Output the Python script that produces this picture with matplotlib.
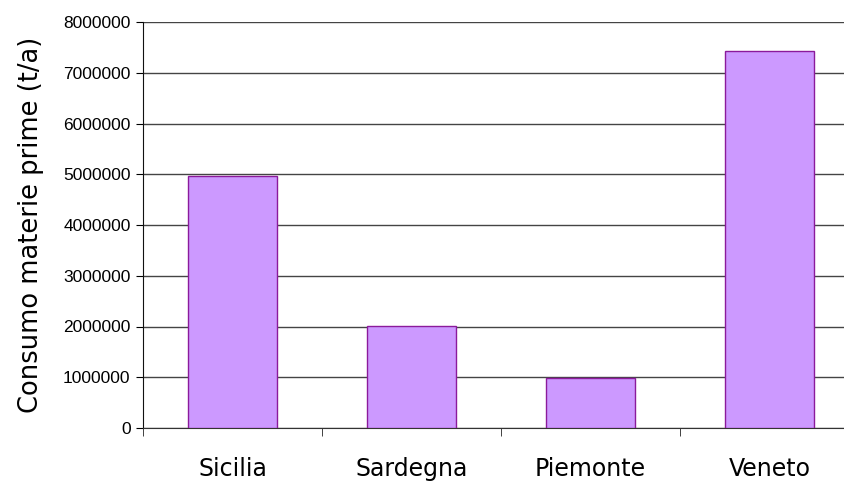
import matplotlib
matplotlib.use('Agg')
import matplotlib.pyplot as plt
import numpy as np

# Dati
regioni = ['Sicilia', 'Sardegna', 'Piemonte', 'Veneto']
consumo = [4960000, 2010000, 990000, 7430000]

fig = plt.figure(figsize=(8.45, 4.87), dpi=100)
ax = fig.add_axes([143 / 845, 59 / 487, 716 / 845, 406 / 487])

x = np.arange(len(regioni))
ax.bar(x, consumo, width=0.5, color='#CC99FF', edgecolor='#8B1A9B', linewidth=1, zorder=3)

ax.set_xlim(-0.5, 3.5)
ax.set_ylim(0, 8000000)
ax.set_yticks(np.arange(0, 8000001, 1000000))
ax.set_yticklabels([str(v) for v in range(0, 8000001, 1000000)],
                   fontfamily='Liberation Sans', fontsize=12.5)
ax.yaxis.grid(True, color='#444444', linewidth=1)
ax.set_axisbelow(True)

# Etichette categorie e tacche tra le barre
ax.set_xticks(x)
ax.set_xticklabels(regioni, fontsize=17)
ax.tick_params(axis='x', which='major', length=0, pad=21)
ax.set_xticks([-0.5, 0.5, 1.5, 2.5, 3.5], minor=True)
ax.tick_params(axis='x', which='minor', length=6, direction='out', color='#222222')
ax.tick_params(axis='y', length=5, direction='out', pad=4)

for s in ['top', 'right']:
    ax.spines[s].set_visible(False)
ax.spines['left'].set_color('#111111')
ax.spines['bottom'].set_color('#333333')

ax.set_ylabel('Consumo materie prime (t/a)', fontsize=18.5, labelpad=14)

fig.savefig('out.png', dpi=100)
